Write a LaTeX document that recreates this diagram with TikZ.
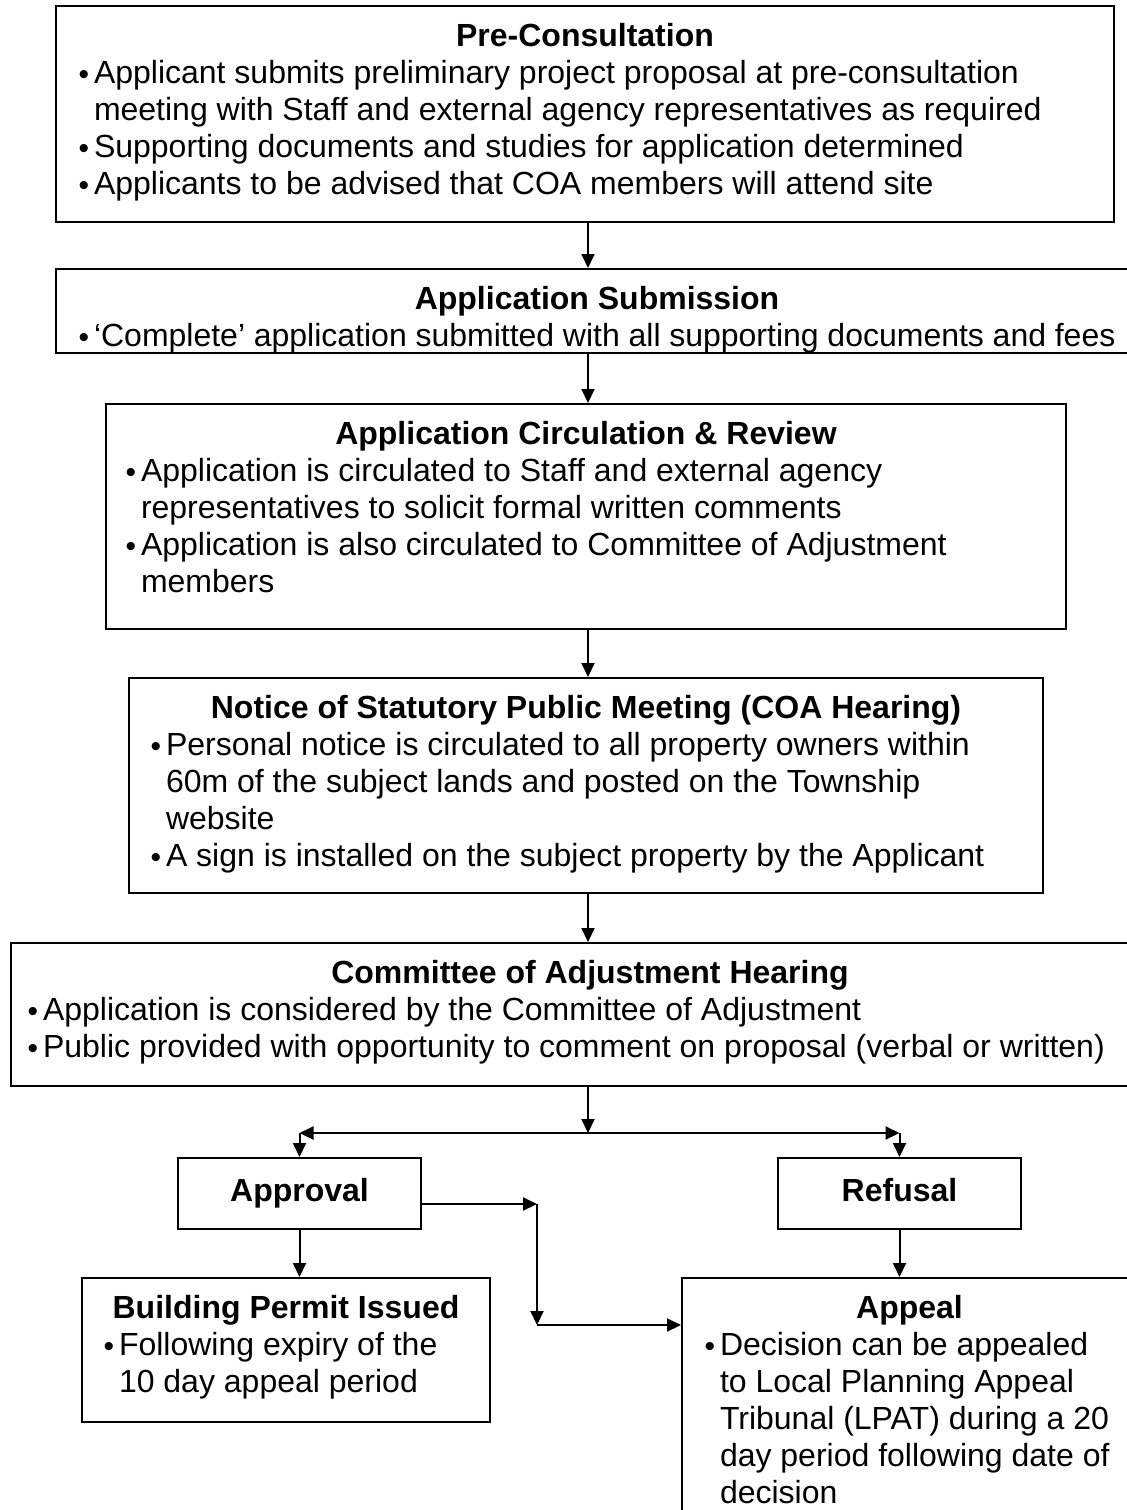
\documentclass[tikz,border=0pt]{standalone}
\usepackage{fontspec}
\setmainfont{Liberation Sans}
\usetikzlibrary{arrows.meta}

% bullet and a hanging item
\newcommand{\bul}{{\fontsize{15}{15}\selectfont\raisebox{-0.6pt}{•}}}
\newcommand{\itm}[1]{\par\hangindent=7.75pt\hangafter=1\noindent\makebox[7.75pt][l]{\bul}#1}
% box text: width, height, title, items
\newcommand{\boxtext}[4]{\parbox[c][#2][t]{#1}{\fontsize{16}{18.5}\selectfont
{\centering\rule{0pt}{20pt}\textbf{#3}\par}\raggedright #4\par}}

\begin{document}
\begin{tikzpicture}[x=0.5pt,y=-0.5pt]
\tikzset{
% boxes and connectors
box/.style={draw,line width=1pt,anchor=north west,inner ysep=0pt},
small box/.style={draw,line width=1pt,anchor=north west,minimum width=121.5pt,minimum height=35.5pt,
  text height=11.5pt,text depth=3.5pt,font=\fontsize{16}{18.5}\selectfont\bfseries},
arr/.style={line width=1pt,-{Triangle[length=7pt,width=6.5pt]}}
}
\useasboundingbox (0,0) rectangle (1127,1510);

% The main column
\node[box,inner xsep=11.25pt] (pre) at (55,5) {\boxtext{506.5pt}{108pt}{Pre-Consultation}{%
\itm{Applicant submits preliminary project proposal at pre-consultation\newline meeting with Staff and external agency representatives as required}
\itm{Supporting documents and studies for application determined}
\itm{Applicants to be advised that COA members will attend site}}};

\node[box,inner xsep=11.25pt] (sub) at (55,268) {\boxtext{518.5pt}{42pt}{Application Submission}{%
\itm{‘Complete’ application submitted with all supporting documents and fees}}};

\node[box,inner xsep=9.75pt] (circ) at (105,403) {\boxtext{460.5pt}{112.5pt}{Application Circulation \& Review}{%
\itm{Application is circulated to Staff and external agency\newline representatives to solicit formal written comments}
\itm{Application is also circulated to Committee of Adjustment\newline members}}};

\node[box,inner xsep=10.75pt] (notice) at (128,677) {\boxtext{435.5pt}{107.5pt}{Notice of Statutory Public Meeting (COA Hearing)}{%
\itm{Personal notice is circulated to all property owners within\newline 60m of the subject lands and posted on the Township\newline website}
\itm{A sign is installed on the subject property by the Applicant}}};

\node[box,inner xsep=8.25pt] (hear) at (10,942) {\boxtext{562.5pt}{71.5pt}{Committee of Adjustment Hearing}{%
\itm{Application is considered by the Committee of Adjustment}
\itm{Public provided with opportunity to comment on proposal (verbal or written)}}};

% The decision
\node[small box] (appr) at (177,1157) {Approval};
\node[small box] (refu) at (777,1157) {Refusal};

\node[box,inner xsep=10.75pt] (bp) at (81,1277) {\boxtext{182.5pt}{72pt}{Building Permit Issued}{%
\itm{Following expiry of the\newline 10 day appeal period}}};

\node[box,inner xsep=11.25pt] (appeal) at (681,1277) {\boxtext{205pt}{122pt}{Appeal}{%
\itm{Decision can be appealed\newline to Local Planning Appeal\newline Tribunal (LPAT) during a 20\newline day period following date of\newline decision}}};

% connectors
\coordinate (spine) at (588,0);
\coordinate (split) at (588,1133);
\coordinate (jog) at (537,1204);
\coordinate (jog2) at (537,1325);
\draw[arr] (pre.south -| spine) -- (sub.north -| spine);
\draw[arr] (sub.south -| spine) -- (circ.north -| spine);
\draw[arr] (circ.south -| spine) -- (notice.north -| spine);
\draw[arr] (notice.south -| spine) -- (hear.north -| spine);
\draw[arr] (hear.south -| spine) -- (split);
\draw[arr] (split) -- (split -| appr.north);
\draw[arr] (split) -- (split -| refu.north);
\draw[arr] (split -| appr.north) -- (appr.north);
\draw[arr] (split -| refu.north) -- (refu.north);
\draw[arr] (appr.south) -- (bp.north -| appr.south);
\draw[arr] (refu.south) -- (appeal.north -| refu.south);
\draw[arr] (appr.east |- jog) -- (jog);
\draw[arr] (jog) -- (jog2);
\draw[arr] (jog2) -- (appeal.west |- jog2);
\end{tikzpicture}
\end{document}
